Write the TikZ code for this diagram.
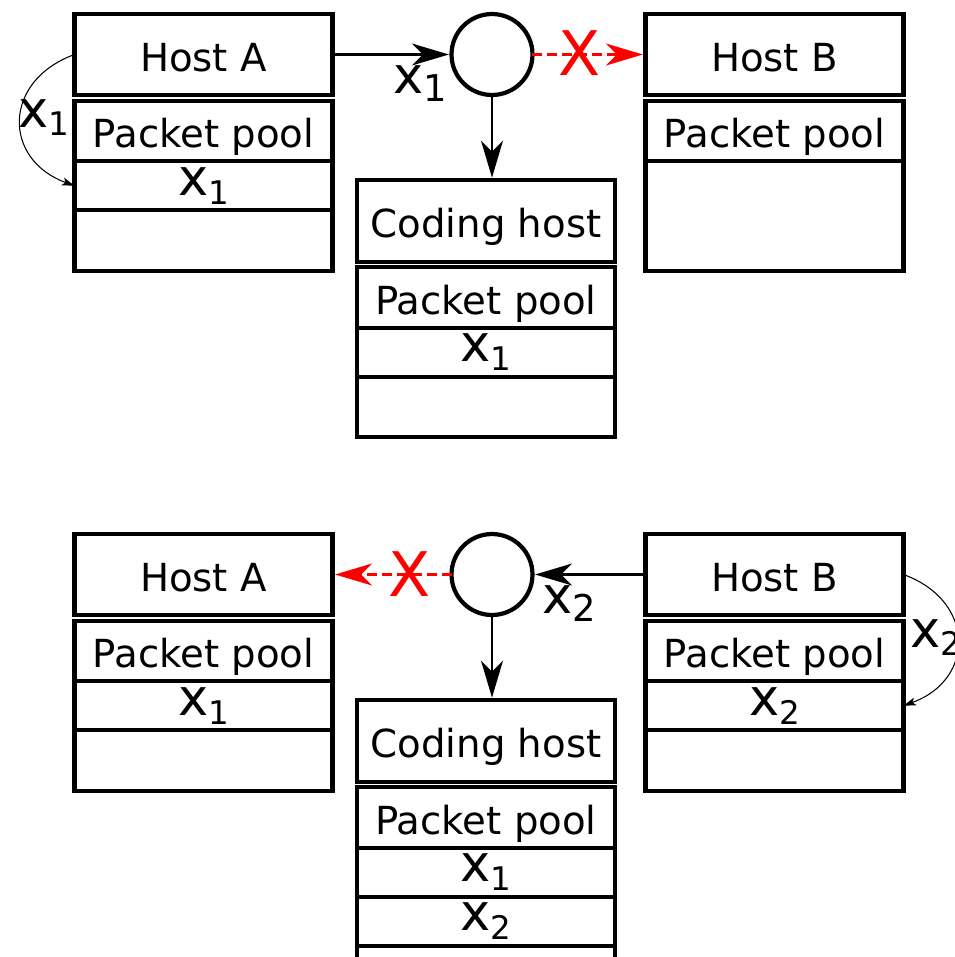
\documentclass[tikz,border=0pt]{standalone}
\usepackage{fontspec}
\setmainfont{DejaVu Sans}
\usetikzlibrary{arrows.meta,calc,positioning}

% packet label: x with a large subscript
\newcommand{\pk}[2][18.5]{{\fontsize{29}{30}\selectfont x}\raisebox{-5pt}{\fontsize{#1}{20}\selectfont #2}}

\tikzset{
  cell/.style={draw, line width=2.4pt, minimum width=5.16cm, inner sep=0pt, outer sep=0pt,
    font=\fontsize{22}{26}\selectfont},
  hostbox/.style={cell, minimum height=1.63cm, text height=21.5pt, text depth=2.4pt},
  poolrow/.style={hostbox, minimum height=1.21cm},
  pktrow/.style={cell, minimum height=0.98cm},
  spare/.style={cell, minimum height=1.21cm},
  relay/.style={draw, circle, line width=2.4pt, minimum size=1.62cm, inner sep=0pt, outer sep=0pt},
  link/.style={-{Stealth[length=0.74cm,width=0.44cm,inset=0.22cm]}, line width=1.2pt, shorten >=1.5pt},
  lost/.style={link, red, dash pattern=on 0.2cm off 0.1cm},
  keep/.style={-{Stealth[length=0.25cm,width=0.16cm,inset=0.06cm]}, line width=0.6pt},
  cross/.style={text=red, inner sep=0pt, font=\fontsize{35}{35}\selectfont},
  lbl/.style={anchor=base west, inner sep=0pt}
}

\begin{document}
\begin{tikzpicture}[x=0.02cm,y=-0.02cm]
    \useasboundingbox (0,0) rectangle (955,957);

    % --- first step: A sends x1, B misses it
    \node[hostbox] (a1) at (203.5,54.5) {Host A};
    \node[poolrow, below=0.11cm of a1] (a1pool) {Packet pool};
    \node[pktrow, below=0cm of a1pool] (a1x) {\pk{1}};
    \node[spare, below=0cm of a1x] (a1e) {};

    \node[hostbox] (b1) at (774.5,54.5) {Host B};
    \node[poolrow, below=0.11cm of b1] (b1pool) {Packet pool};
    \node[cell, minimum height=2.19cm, below=0cm of b1pool] (b1e) {};

    \node[hostbox] (c1) at (486,221) {Coding host};
    \node[poolrow, below=0.11cm of c1] (c1pool) {Packet pool};
    \node[pktrow, below=0cm of c1pool] (c1x) {\pk{1}};
    \node[spare, below=0cm of c1x] (c1e) {};

    \node[relay] (r1) at (492,54.5) {};

    \draw[link] (a1.east) -- (r1.west);
    \node[lbl] (l1) at (393,93) {\pk[21]{1}};
    \draw[lost] (r1.east) -- (b1.west);
    \node[cross] (k1) at (580,53) {X};
    \draw[link] (r1.south) -- (r1.south |- c1.north);

    \draw[keep] (a1.west) to[out=200,in=160,looseness=1.5] (a1x.west);
    \node[lbl] (s1) at (18,127) {\pk{1}};

    % --- second step: B sends x2, A misses it
    \node[hostbox] (a2) at (203.5,574.5) {Host A};
    \node[poolrow, below=0.11cm of a2] (a2pool) {Packet pool};
    \node[pktrow, below=0cm of a2pool] (a2x) {\pk{1}};
    \node[spare, below=0cm of a2x] (a2e) {};

    \node[hostbox] (b2) at (774.5,574.5) {Host B};
    \node[poolrow, below=0.11cm of b2] (b2pool) {Packet pool};
    \node[pktrow, below=0cm of b2pool] (b2x) {\pk{2}};
    \node[spare, below=0cm of b2x] (b2e) {};

    \node[hostbox] (c2) at (486,741) {Coding host};
    \node[poolrow, below=0.11cm of c2] (c2pool) {Packet pool};
    \node[pktrow, below=0cm of c2pool] (c2x) {\pk{1}};
    \node[pktrow, below=0cm of c2x] (c2y) {\pk{2}};
    \node[spare, below=0cm of c2y] (c2e) {};

    \node[relay] (r2) at (492,574.5) {};

    \draw[link] (b2.west) -- (r2.east);
    \node[lbl] (l2) at (542,613) {\pk[21]{2}};
    \draw[lost] (r2.west) -- (a2.east);
    \node[cross] (k2) at (410,574) {X};
    \draw[link] (r2.south) -- (r2.south |- c2.north);

    \draw[keep] (b2.east) to[out=-20,in=20,looseness=1.5] (b2x.east);
    \node[lbl] (s2) at (910,647) {\pk{2}};
\end{tikzpicture}
\end{document}
